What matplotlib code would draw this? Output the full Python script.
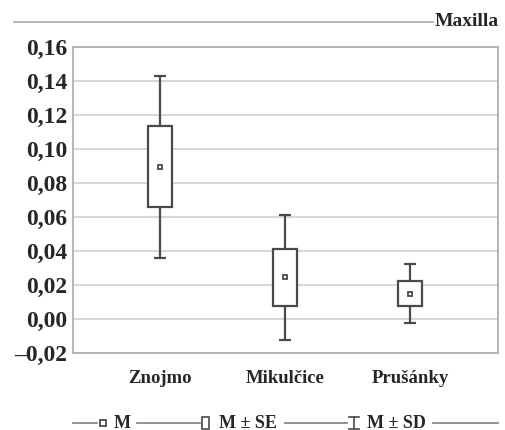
import matplotlib
matplotlib.use('Agg')
import matplotlib.pyplot as plt
from matplotlib.patches import Rectangle
from matplotlib.lines import Line2D
import numpy as np

sites = ['Znojmo', 'Mikulčice', 'Prušánky']
mean = [0.0895, 0.0246, 0.0150]
se = [0.0238, 0.0168, 0.0074]
sd = [0.0535, 0.0367, 0.0171]
yticks = [-0.02, 0.0, 0.02, 0.04, 0.06, 0.08, 0.10, 0.12, 0.14, 0.16]

plt.rcParams['font.family'] = ['Liberation Serif', 'DejaVu Serif']
plt.rcParams['font.weight'] = 'bold'
plt.rcParams['text.color'] = '#262626'
plt.rcParams['xtick.color'] = '#262626'
plt.rcParams['ytick.color'] = '#262626'

dark = '#4a4a4a'
grey = '#b0b0b0'

fig = plt.figure(figsize=(5.06, 4.3), dpi=100)
ax = fig.add_axes([73/506, 77/430, 425/506, 306/430])

x = np.arange(1, len(sites) + 1)
m = np.array(mean)
s = np.array(se)
d = np.array(sd)

# whiskers (M +- SD)
ax.vlines(x, m + s, m + d, color=dark, lw=1.6, zorder=3)
ax.vlines(x, m - d, m - s, color=dark, lw=1.6, zorder=3)
ax.hlines(m + d, x - 0.045, x + 0.045, color=dark, lw=1.6, zorder=3)
ax.hlines(m - d, x - 0.045, x + 0.045, color=dark, lw=1.6, zorder=3)
# boxes (M +- SE)
ax.bar(x, 2 * s, bottom=m - s, width=0.19, facecolor='white',
       edgecolor=dark, linewidth=1.6, zorder=3)
# mean
ax.plot(x, m, 's', ms=3.5, mfc='white', mec=dark, mew=1.3, zorder=4)

ax.set_xlim(0.304, 3.704)
ax.set_ylim(-0.02, 0.16)
ax.set_yticks(yticks)
ax.set_yticklabels([('%.2f' % v).replace('.', ',').replace('-', '–') for v in yticks],
                   fontsize=17, fontweight='bold')
ax.set_xticks(x)
ax.set_xticklabels(sites, fontsize=13.5, fontweight='bold')
ax.tick_params(axis='both', length=0)
ax.tick_params(axis='y', pad=4)
ax.tick_params(axis='x', pad=12)
ax.grid(axis='y', color='#d4d4d4', lw=1.3)
ax.set_axisbelow(True)
for sp in ax.spines.values():
    sp.set_color(grey)
    sp.set_linewidth(1.3)

# title with rule
fig.text(499/506, 1 - 22/430, 'Maxilla', ha='right', va='center',
         fontsize=14, fontweight='bold')
fig.add_artist(Line2D([14/506, 433/506], [1 - 22/430, 1 - 22/430],
                      color=grey, lw=1.3))

# legend row
lg = fig.add_axes([0, 0, 1, 1], facecolor='none')
lg.set_xlim(0, 506)
lg.set_ylim(430, 0)
lg.axis('off')
ly = 423
for a, b in [(73, 97), (137, 200), (285, 347), (433, 498)]:
    lg.plot([a, b], [ly, ly], color='#8a8a8a', lw=1.3)
lg.plot([103], [ly], 's', ms=4, mfc='white', mec=dark, mew=1.3)
lg.add_patch(Rectangle((202, ly - 6), 7, 12, facecolor='white', edgecolor=dark, lw=1.2))
lg.plot([354, 354], [ly - 6, ly + 6], color=dark, lw=1.2)
lg.plot([349, 359], [ly - 6, ly - 6], color=dark, lw=1.2)
lg.plot([349, 359], [ly + 6, ly + 6], color=dark, lw=1.2)
lg.text(114, ly, 'M', va='center', ha='left', fontsize=13, fontweight='bold')
lg.text(219, ly, 'M ± SE', va='center', ha='left', fontsize=13, fontweight='bold')
lg.text(367, ly, 'M ± SD', va='center', ha='left', fontsize=13, fontweight='bold')

fig.savefig('out.png', dpi=100)
